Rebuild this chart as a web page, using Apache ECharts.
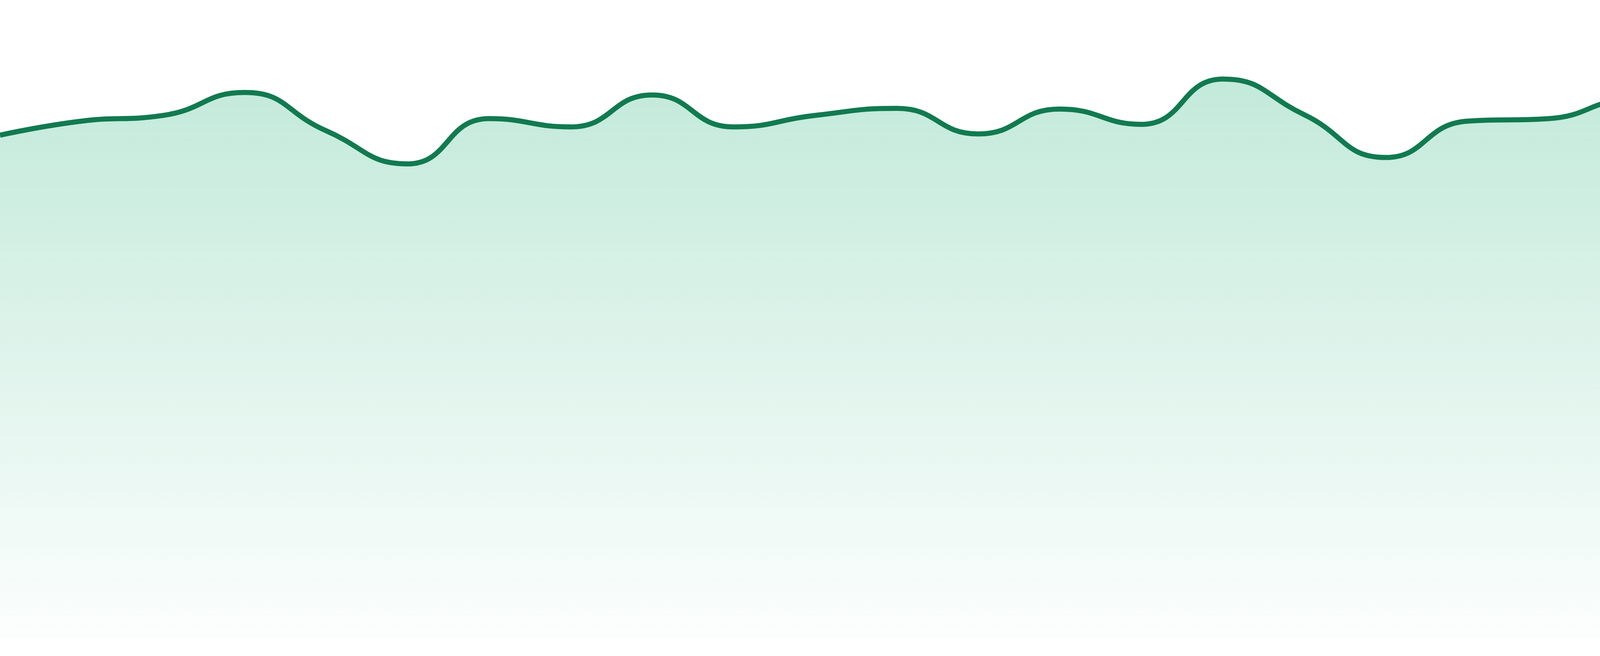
<!DOCTYPE html>
<html>
<head>
<meta charset="utf-8">
<title>Area sparkline</title>
<script src="https://cdn.jsdelivr.net/npm/echarts@6/dist/echarts.min.js"></script>
<style>
    html, body { margin: 0; padding: 0; background: #ffffff; }
    #chart { width: 4800px; height: 1680px; }
</style>
</head>
<body>
<div id="chart"></div>
<script>
// categories (one per point, evenly spaced, no labels shown)
const categories = [
    'P1', 'P2', 'P3', 'P4', 'P5', 'P6', 'P7', 'P8',
    'P9', 'P10', 'P11', 'P12', 'P13', 'P14', 'P15', 'P16',
    'P17', 'P18', 'P19', 'P20', 'P21', 'P22', 'P23', 'P24'
];

// values (0..100 scale, axis hidden)
const values = [
    78.8, 81.0, 81.9, 85.5, 79.5, 74.3, 81.4, 80.1,
    85.1, 80.1, 81.9, 83.0, 79.0, 82.9, 80.5, 87.6,
    82.0, 75.3, 81.0, 81.4, 84.3, 82.9, 86.2, 84.7
];

const yMin = 0;
const yMax = 100;

const chart = echarts.init(document.getElementById('chart'));

chart.setOption({
    animation: false,
    grid: {
        left: 0,
        right: 0,
        top: 0,
        bottom: 47
    },
    xAxis: {
        type: 'category',
        data: categories,
        boundaryGap: false,
        show: false
    },
    yAxis: {
        type: 'value',
        min: yMin,
        max: yMax,
        show: false
    },
    series: [
        {
            type: 'line',
            data: values,
            smooth: true,
            symbol: 'none',
            lineStyle: {
                color: '#117a50',
                width: 13
            },
            areaStyle: {
                color: new echarts.graphic.LinearGradient(0, 0, 0, 1, [
                    { offset: 0, color: 'rgba(16, 170, 110, 0.36)' },
                    { offset: 1, color: 'rgba(16, 170, 110, 0.02)' }
                ])
            }
        }
    ]
});
</script>
</body>
</html>
